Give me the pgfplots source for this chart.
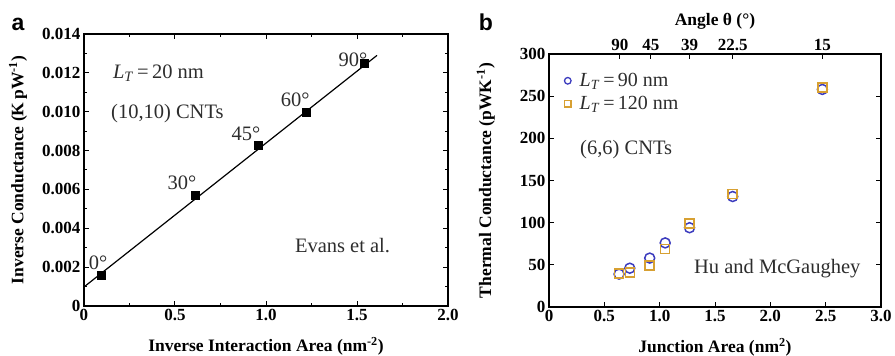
\documentclass[border=0pt]{standalone}
\usepackage{pgfplots}
\pgfplotsset{compat=1.18}
\usepackage{fontspec}
\setmainfont{Liberation Serif}
\setsansfont{Liberation Sans}
\definecolor{cblue}{RGB}{60,60,190}
\definecolor{corange}{RGB}{215,160,50}
\definecolor{tgray}{RGB}{45,45,45}
\begin{document}
\begin{tikzpicture}
\useasboundingbox (0pt,0pt) rectangle (895pt,356pt);
\pgfplotsset{
  every axis/.append style={
    scale only axis, tick align=inside,
    axis line style={line width=1.3pt},
    major tick length=5pt, minor tick length=3pt,
    every tick/.append style={black, line width=1pt},
    /pgf/number format/assume math mode=true,
    tick label style={font=\fontsize{17}{17}\selectfont\bfseries},
    label style={font=\fontsize{17.5}{17.5}\selectfont\bfseries},
    scaled ticks=false,
  },
}
\node[font=\fontsize{23}{23}\selectfont\sffamily\bfseries] at (18pt,332pt) {a};
\node[font=\fontsize{23}{23}\selectfont\sffamily\bfseries] at (486pt,334pt) {b};
% Panel a
\begin{axis}[at={(84pt,50pt)}, anchor=south west, width=364pt, height=272pt,
  xmin=0, xmax=2, ymin=0, ymax=0.014,
  xtick={0,0.5,1,1.5,2}, xticklabels={0,0.5,1.0,1.5,2.0}, minor x tick num=1,
  ytick={0,0.002,0.004,0.006,0.008,0.010,0.012,0.014},
  yticklabels={0,0.002,0.004,0.006,0.008,0.010,0.012,0.014}, minor y tick num=1,
  xlabel={Inverse Interaction Area (nm\textsuperscript{-2})},
  ylabel={Inverse Conductance (K\,pW\textsuperscript{-1})},
  xlabel style={at={(axis description cs:0.5,-0.147)}, anchor=center},
  ylabel style={at={(axis description cs:-0.181,0.5)}, anchor=center},
  clip=false]
\addplot[black, line width=1.2pt] coordinates {(0,0.00098) (1.61,0.0129)};
\addplot[only marks, mark=square*, mark size=4pt, black] coordinates {
(0.093,0.0016) (0.61,0.0057) (0.956,0.0083) (1.22,0.0100) (1.538,0.0125)};
\begin{scope}[every node/.style={font=\fontsize{20.5}{20.5}\selectfont, text=tgray}]
\node[anchor=west] at (axis cs:0.14,0.0120) {\textit{L}\textsubscript{\textit{T}}\,=\,20 nm};
\node[anchor=west] at (axis cs:0.13,0.0099) {(10,10) CNTs};
\node[anchor=west] at (axis cs:1.14,0.0031) {Evans et al.};
\node at (axis cs:0.077,0.00221) {0°};
\node at (axis cs:0.538,0.00633) {30°};
\node at (axis cs:0.89,0.00885) {45°};
\node at (axis cs:1.16,0.0106) {60°};
\node at (axis cs:1.478,0.01266) {90°};
\end{scope}
\end{axis}
% Panel b
\begin{axis}[at={(549pt,49pt)}, anchor=south west, width=332pt, height=253pt,
  xmin=0, xmax=3, ymin=0, ymax=300,
  xtick={0,0.5,1,1.5,2,2.5,3}, xticklabels={0,0.5,1.0,1.5,2.0,2.5,3.0},
  ytick={0,50,100,150,200,250,300}, xtick pos=bottom,
  xlabel={Junction Area (nm\textsuperscript{2})},
  ylabel={Thermal Conductance (pWK\textsuperscript{-1})},
  xlabel style={at={(axis description cs:0.5,-0.158)}, anchor=center},
  ylabel style={at={(axis description cs:-0.19,0.5)}, anchor=center},
  legend style={at={(0.035,0.94)}, anchor=north west, draw=none, fill=none,
    font=\fontsize{20}{22}\selectfont, text=tgray, row sep=4pt,
    /tikz/every odd column/.append style={column sep=6pt}},
  legend cell align=left, clip=false]
\addplot[only marks, mark=o, mark size=5pt, cblue, line width=1.5pt,
  legend image code/.code={\draw[cblue, line width=1.3pt] (0.15cm,0) circle (3.3pt);}] coordinates {
(0.633,39) (0.73,46) (0.91,58) (1.05,76) (1.27,94) (1.66,131) (2.47,258)};
\addlegendentry{\textit{L}\textsubscript{\textit{T}}\,=\,90 nm}
\addplot[only marks, mark=square, mark size=4.5pt, corange, line width=1.5pt,
  legend image code/.code={\draw[corange, line width=1.3pt] (0.15cm-3.3pt,-3.3pt) rectangle (0.15cm+3.3pt,3.3pt);}] coordinates {
(0.633,40) (0.73,41) (0.91,49) (1.05,69) (1.27,99) (1.66,134) (2.47,260)};
\addlegendentry{\textit{L}\textsubscript{\textit{T}}\,=\,120 nm}
\node[anchor=west, font=\fontsize{20.5}{20.5}\selectfont, text=tgray] at (axis cs:0.25,187) {(6,6) CNTs};
\node[anchor=west, font=\fontsize{20.5}{20.5}\selectfont, text=tgray] at (axis cs:1.28,46) {Hu and McGaughey};
\end{axis}
\begin{axis}[at={(549pt,49pt)}, anchor=south west, width=332pt, height=253pt,
  xmin=0, xmax=3, ymin=0, ymax=1,
  axis x line*=top, hide y axis,
  xtick={0.64,0.92,1.27,1.66,2.47}, xticklabels={90,45,39,22.5,15},
  xlabel={Angle θ (°)},
  xlabel style={at={(axis description cs:0.5,1.13)}, anchor=center}]
\end{axis}
\end{tikzpicture}
\end{document}
